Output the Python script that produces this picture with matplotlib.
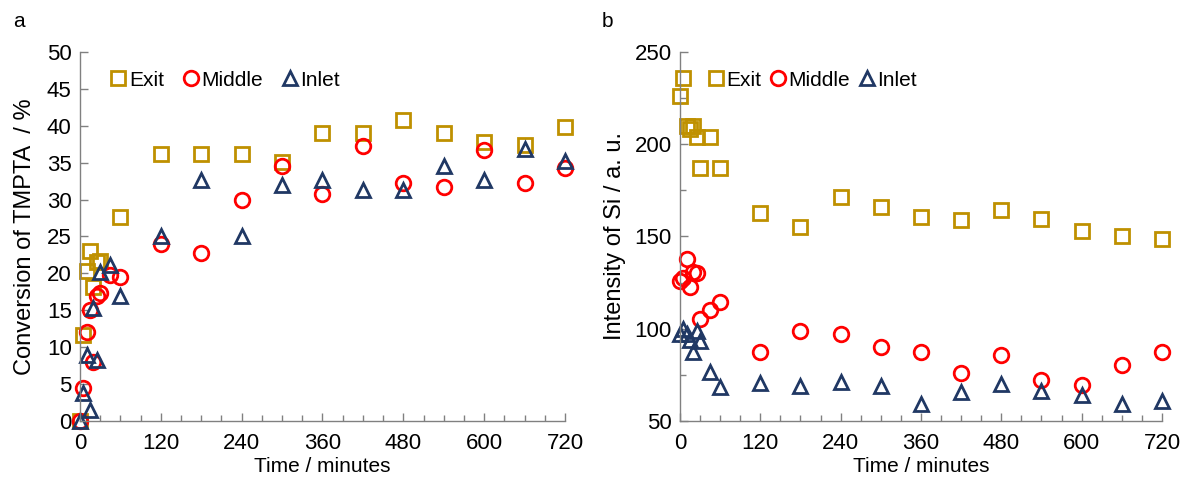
"""Conversion of TMPTA and Si intensity over time (panels a and b)."""

import matplotlib
matplotlib.use('Agg')
from matplotlib import pyplot as plt
from matplotlib.ticker import MultipleLocator

plt.rcParams['font.family'] = ['Liberation Sans', 'DejaVu Sans']

# sampling times, minutes
time_early = [0, 5, 10, 15, 20, 25, 30, 45, 60]
time_late = [120, 180, 240, 300, 360, 420, 480, 540, 600, 660, 720]

# panel a: conversion of TMPTA, %
exit_a_t = [0, 5, 10, 15, 20, 25, 30, 60] + time_late
exit_a = [0, 11.7, 20.3, 23.0, 18.2, 21.5, 21.7, 27.6,
          36.2, 36.2, 36.2, 35.1, 39.0, 39.0, 40.8, 39.0, 37.8, 37.4, 39.8]
middle_a = [0, 4.5, 12.0, 15.0, 8.0, 17.0, 17.3, 19.8, 19.5,
            24.0, 22.7, 30.0, 34.5, 30.7, 37.2, 32.2, 31.7, 36.7, 32.2, 34.3]
inlet_a = [0, 3.8, 9.0, 1.5, 15.3, 8.3, 20.2, 21.1, 17.0,
           25.0, 32.7, 25.0, 32.0, 32.7, 31.3, 31.3, 34.5, 32.7, 36.8, 35.2]

# panel b: intensity of Si, a.u.
exit_b = [226, 236, 210, 208, 210, 204, 187, 204, 187,
          163, 155, 171.5, 166, 160.5, 159, 164.5, 159.5, 153, 150, 148.5]
middle_b = [126, 127.5, 138, 122.5, 131, 130, 105.5, 110, 114.5,
            87.5, 99, 97, 90, 87.5, 76, 86, 72, 69.5, 80.5, 87.5]
inlet_b = [97, 100, 97, 94, 87.5, 99, 93.5, 76.5, 68.5,
           70.5, 69, 71, 69, 59, 65.5, 70, 66, 64, 59, 61]

time_all = time_early + time_late

EXIT_C = '#BF9000'
MIDDLE_C = '#FF0000'
INLET_C = '#203864'
AXIS_C = '#808080'
FS = 15


def draw_series(ax, series):
    for t_vals, y_vals, marker, color, label in series:
        ax.plot(t_vals, y_vals, linestyle='none', marker=marker,
                markersize=10.5, markerfacecolor='none',
                markeredgecolor=color, markeredgewidth=2.0,
                label=label, clip_on=False)


def style_axes(ax, ymin, ymax, ymajor, yminor):
    ax.set_xlim(0, 720)
    ax.set_ylim(ymin, ymax)
    ax.xaxis.set_major_locator(MultipleLocator(120))
    ax.xaxis.set_minor_locator(MultipleLocator(30))
    ax.yaxis.set_major_locator(MultipleLocator(ymajor))
    if yminor:
        ax.yaxis.set_minor_locator(MultipleLocator(yminor))
    for side in ('top', 'right'):
        ax.spines[side].set_visible(False)
    for side in ('left', 'bottom'):
        ax.spines[side].set_color(AXIS_C)
        ax.spines[side].set_linewidth(1.0)
    ax.tick_params(which='major', direction='in', length=6, width=1,
                   color=AXIS_C, labelsize=16)
    ax.tick_params(axis='x', which='major', pad=9)
    ax.tick_params(axis='y', which='major', pad=6)
    ax.tick_params(which='minor', direction='in', length=4, width=1,
                   color=AXIS_C)
    ax.set_xlabel('Time / minutes', fontsize=FS, labelpad=2)


fig = plt.figure(figsize=(11.85, 4.82), dpi=100)
ax_a = fig.add_axes([0.0675, 0.1266, 0.4093, 0.7655])
ax_b = fig.add_axes([0.5738, 0.1266, 0.4068, 0.7655])

draw_series(ax_a, [
    (exit_a_t, exit_a, 's', EXIT_C, 'Exit'),
    (time_all, middle_a, 'o', MIDDLE_C, 'Middle'),
    (time_all, inlet_a, '^', INLET_C, 'Inlet'),
])
style_axes(ax_a, 0, 50, 5, None)
ax_a.set_ylabel('Conversion of TMPTA  / %', fontsize=17, labelpad=8)
ax_a.legend(loc='center left', bbox_to_anchor=(0.045, 0.924), ncol=3,
            frameon=False, fontsize=FS, handlelength=0.8,
            handletextpad=0.1, columnspacing=0.9, borderaxespad=0)

draw_series(ax_b, [
    (time_all, exit_b, 's', EXIT_C, 'Exit'),
    (time_all, middle_b, 'o', MIDDLE_C, 'Middle'),
    (time_all, inlet_b, '^', INLET_C, 'Inlet'),
])
style_axes(ax_b, 50, 250, 50, 25)
ax_b.set_ylabel('Intensity of Si / a. u.', fontsize=17, labelpad=6)
ax_b.legend(loc='center left', bbox_to_anchor=(0.040, 0.924), ncol=3,
            frameon=False, fontsize=FS, handlelength=0.8,
            handletextpad=0.1, columnspacing=0.4, borderaxespad=0)

fig.text(0.011, 0.955, 'a', fontsize=FS, va='center')
fig.text(0.508, 0.955, 'b', fontsize=FS, va='center')

fig.savefig('out.png', dpi=100)
